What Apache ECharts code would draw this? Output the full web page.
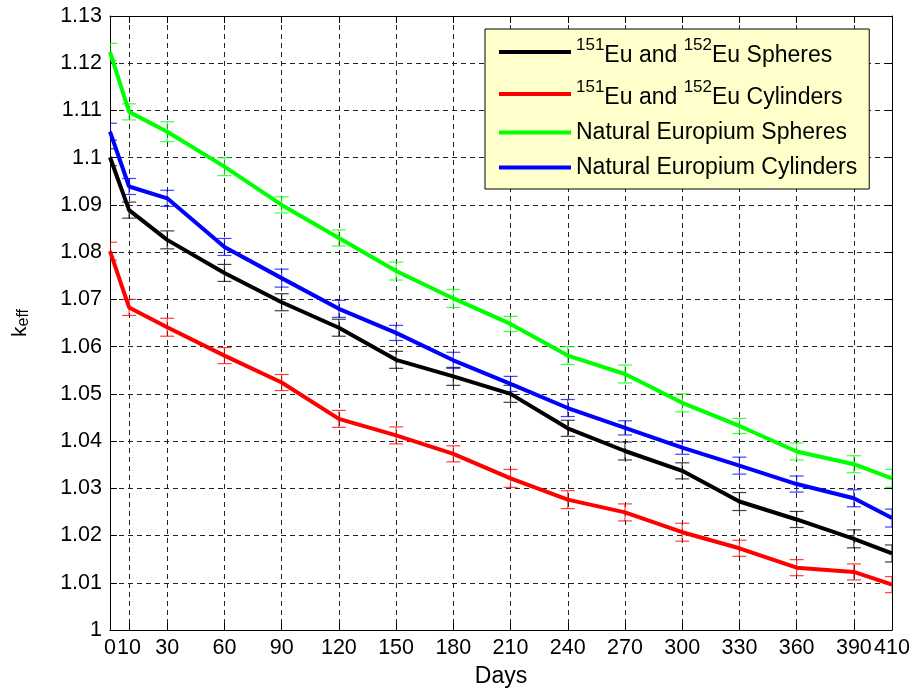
<!DOCTYPE html>
<html><head><meta charset="utf-8">
<script src="https://cdn.jsdelivr.net/npm/echarts@6/dist/echarts.min.js"></script>
<style>html,body{margin:0;padding:0;background:#fff}#c{width:919px;height:698px}</style>
</head><body><div id="c"></div>
<script>
// ---- data ----
const days = [0, 10, 30, 60, 90, 120, 150, 180, 210, 240, 270, 300, 330, 360, 390, 410];
const yTicks = [1, 1.01, 1.02, 1.03, 1.04, 1.05, 1.06, 1.07, 1.08, 1.09, 1.1, 1.11, 1.12, 1.13];
const seriesNames = ['151Eu and 152Eu Spheres', '151Eu and 152Eu Cylinders', 'Natural Europium Spheres', 'Natural Europium Cylinders'];
const legendLabels = [
  '{h|\u200b}{sup|151}{t|Eu and }{sup|152}{t|Eu Spheres}',
  '{h|\u200b}{sup|151}{t|Eu and }{sup|152}{t|Eu Cylinders}',
  '{p|Natural Europium Spheres}',
  '{p|Natural Europium Cylinders}'
];
const colors = ['#000000', '#ff0000', '#00ff00', '#0000ff'];
const euSpheres    = [1.1001, 1.0889, 1.0826, 1.0756, 1.0694, 1.0640, 1.0572, 1.0537, 1.0500, 1.0427, 1.0379, 1.0337, 1.0272, 1.0234, 1.0193, 1.0162];
const euCylinders  = [1.0802, 1.0683, 1.0641, 1.0581, 1.0524, 1.0447, 1.0412, 1.0373, 1.0321, 1.0276, 1.0249, 1.0207, 1.0173, 1.0132, 1.0123, 1.0096];
const natSpheres   = [1.1224, 1.1097, 1.1055, 1.0981, 1.0900, 1.0830, 1.0760, 1.0702, 1.0648, 1.0581, 1.0542, 1.0481, 1.0432, 1.0378, 1.0351, 1.0321];
const natCylinders = [1.1055, 1.0939, 1.0914, 1.0811, 1.0745, 1.0680, 1.0629, 1.0571, 1.0521, 1.0470, 1.0428, 1.0386, 1.0348, 1.0309, 1.0279, 1.0237];
const errEuSpheres    = [0.0018, 0.0017, 0.0019, 0.0018, 0.0018, 0.0018, 0.0018, 0.0019, 0.0018, 0.0017, 0.0019, 0.0017, 0.0019, 0.0017, 0.0019, 0.0018];
const errEuCylinders  = [0.0019, 0.0017, 0.0019, 0.0017, 0.0017, 0.0018, 0.0018, 0.0017, 0.0019, 0.0019, 0.0018, 0.0019, 0.0017, 0.0017, 0.0017, 0.0017];
const errNatSpheres   = [0.0018, 0.0017, 0.0021, 0.0019, 0.0017, 0.0017, 0.0019, 0.0019, 0.0016, 0.0019, 0.0019, 0.0019, 0.0016, 0.0018, 0.0018, 0.0019];
const errNatCylinders = [0.0018, 0.0017, 0.0017, 0.0018, 0.0019, 0.0018, 0.0016, 0.0017, 0.0016, 0.0018, 0.0015, 0.0014, 0.0018, 0.0017, 0.0018, 0.0019];

const values = [euSpheres, euCylinders, natSpheres, natCylinders];
const errors = [errEuSpheres, errEuCylinders, errNatSpheres, errNatCylinders];

// ---- axis helpers ----
const FONT = 'Liberation Sans, Arial, sans-serif';
const allDays = [];
for (let d = 0; d <= days[days.length - 1]; d += 10) allDays.push(String(d));
const showTick = (idx, val) => days.indexOf(+val) >= 0;

const chart = echarts.init(document.getElementById('c'), null, {renderer: 'canvas'});

const series = [];
values.forEach((vals, s) => {
  series.push({
    name: 'err' + s,
    type: 'custom',
    clip: true,
    z: 2,
    silent: true,
    data: days.map((d, i) => [String(d), vals[i], errors[s][i]]),
    encode: {x: 0, y: 1},
    renderItem: function (params, api) {
      const x = api.value(0), y = api.value(1), e = api.value(2);
      const top = api.coord([x, y + e]);
      const bot = api.coord([x, y - e]);
      const hw = 7;
      const style = {stroke: colors[s], lineWidth: 1.2, opacity: 0.75};
      return {type: 'group', children: [
        {type: 'line', shape: {x1: top[0], y1: top[1], x2: bot[0], y2: bot[1]}, style: style},
        {type: 'line', shape: {x1: top[0] - hw, y1: top[1], x2: top[0] + hw, y2: top[1]}, style: style},
        {type: 'line', shape: {x1: bot[0] - hw, y1: bot[1], x2: bot[0] + hw, y2: bot[1]}, style: style}
      ]};
    }
  });
});
values.forEach((vals, s) => {
  series.push({
    name: seriesNames[s],
    type: 'line',
    symbol: 'none',
    z: 3,
    color: colors[s],
    lineStyle: {width: 4, color: colors[s]},
    data: days.map((d, i) => [String(d), vals[i]])
  });
});

const catAxisBase = {
  type: 'category',
  data: allDays,
  boundaryGap: false,
  axisLine: {show: true, onZero: false, lineStyle: {color: '#000', width: 1}},
  axisTick: {show: true, inside: true, length: 7, interval: showTick, lineStyle: {color: '#000'}},
};

const option = {
  backgroundColor: '#fff',
  animation: false,
  grid: {left: 110, right: 27, top: 16, bottom: 68, containLabel: false},
  legend: {
    data: seriesNames,
    orient: 'vertical',
    left: 485,
    top: 29,
    padding: [8, 12, 10, 14],
    itemGap: 12,
    itemWidth: 72,
    itemHeight: 4,
    icon: 'rect',
    backgroundColor: '#ffffcc',
    borderColor: '#000',
    borderWidth: 1,
    borderRadius: 0,
    selectedMode: false,
    formatter: name => legendLabels[seriesNames.indexOf(name)],
    textStyle: {
      fontFamily: FONT, fontSize: 23, color: '#000',
      rich: {
        h: {fontFamily: FONT, fontSize: 20, lineHeight: 30},
        t: {fontFamily: FONT, fontSize: 23, color: '#000', lineHeight: 24, verticalAlign: 'bottom'},
        sup: {fontFamily: FONT, fontSize: 17, color: '#000', lineHeight: 22, verticalAlign: 'top'},
        p: {fontFamily: FONT, fontSize: 23, color: '#000', lineHeight: 22}
      }
    }
  },
  xAxis: [
    Object.assign({}, catAxisBase, {
      position: 'bottom',
      name: 'Days',
      nameLocation: 'middle',
      nameGap: 35,
      nameTextStyle: {fontFamily: FONT, fontSize: 23, color: '#000'},
      axisLabel: {show: true, interval: showTick, fontFamily: FONT, fontSize: 21.5, color: '#000', margin: 7},
      splitLine: {show: true, interval: showTick, lineStyle: {type: [5, 4], color: '#222', width: 1}}
    }),
    Object.assign({}, catAxisBase, {
      position: 'top',
      axisLabel: {show: false},
      splitLine: {show: false}
    })
  ],
  yAxis: [
    {
      type: 'value', position: 'left', min: yTicks[0], max: yTicks[yTicks.length - 1], interval: 0.01,
      name: 'k{sub|eff}', nameLocation: 'middle', nameGap: 78, nameRotate: 90,
      nameTextStyle: {fontFamily: FONT, fontSize: 21, color: '#000', lineHeight: 24,
        rich: {sub: {fontFamily: FONT, fontSize: 16, color: '#000', lineHeight: 20, verticalAlign: 'bottom'}}},
      axisLine: {show: true, onZero: false, lineStyle: {color: '#000', width: 1}},
      axisTick: {show: true, inside: true, length: 7, lineStyle: {color: '#000'}},
      axisLabel: {fontFamily: FONT, fontSize: 21.5, color: '#000', margin: 8,
        formatter: v => String(Math.round(v * 100) / 100)},
      splitLine: {show: true, lineStyle: {type: [5, 4], color: '#222', width: 1}}
    },
    {
      type: 'value', position: 'right', min: yTicks[0], max: yTicks[yTicks.length - 1], interval: 0.01,
      axisLine: {show: true, onZero: false, lineStyle: {color: '#000', width: 1}},
      axisTick: {show: true, inside: true, length: 7, lineStyle: {color: '#000'}},
      axisLabel: {show: false},
      splitLine: {show: false}
    }
  ],
  series: series
};
chart.setOption(option);
</script>
</body></html>
